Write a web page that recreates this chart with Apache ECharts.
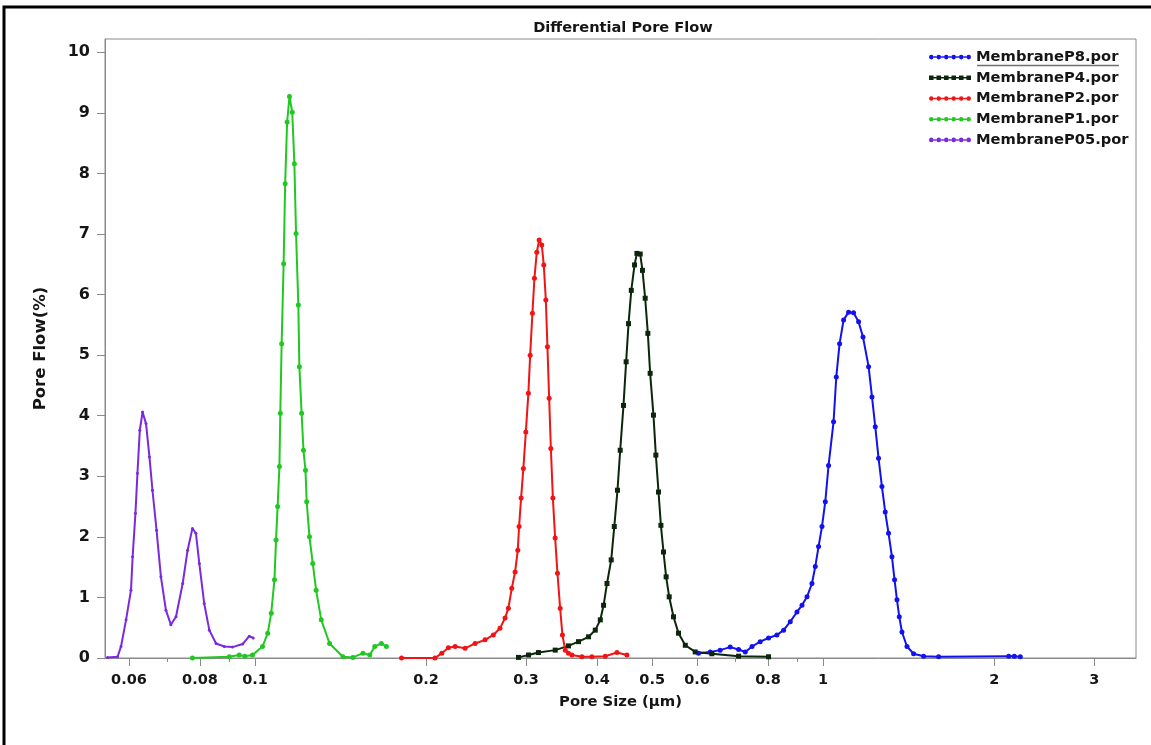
<!DOCTYPE html>
<html>
<head>
<meta charset="utf-8">
<title>Differential Pore Flow</title>
<script src="https://cdn.jsdelivr.net/npm/echarts@6/dist/echarts.min.js"></script>
<style>
  html, body { margin: 0; padding: 0; background: #fff; }
  #chart { width: 1151px; height: 745px; }
</style>
</head>
<body>
<div id="chart"></div>
<script>
// Pore size (µm) vs differential pore flow (%) for each membrane grade
const membraneP8 = [
  [0.6034,0.08],[0.6327,0.10],[0.6586,0.13],[0.6860,0.18],[0.7098,0.14],[0.7294,0.10],
  [0.7496,0.19],[0.7747,0.27],[0.8014,0.33],[0.8291,0.38],[0.8519,0.46],[0.8752,0.60],
  [0.8992,0.76],[0.9178,0.87],[0.9365,1.01],[0.9556,1.23],[0.9685,1.51],[0.9815,1.84],
  [0.9952,2.17],[1.0086,2.58],[1.0221,3.18],[1.0430,3.90],[1.0546,4.64],[1.0688,5.19],
  [1.0862,5.58],[1.1084,5.71],[1.1311,5.70],[1.1543,5.55],[1.1752,5.30],[1.2021,4.81],
  [1.2188,4.31],[1.2350,3.82],[1.2516,3.30],[1.2689,2.83],[1.2860,2.41],[1.3033,2.06],
  [1.3215,1.67],[1.3355,1.29],[1.3486,0.96],[1.3614,0.68],[1.3762,0.43],[1.4044,0.19],
  [1.4427,0.07],[1.5023,0.03],[1.5968,0.02],[2.1211,0.03],[2.1700,0.03],[2.2233,0.02]
];
const membraneP4 = [
  [0.2909,0.01],[0.3030,0.05],[0.3154,0.09],[0.3376,0.13],[0.3562,0.20],[0.3710,0.27],
  [0.3864,0.35],[0.3971,0.46],[0.4053,0.63],[0.4107,0.87],[0.4164,1.23],[0.4236,1.62],
  [0.4289,2.17],[0.4345,2.77],[0.4393,3.43],[0.4452,4.17],[0.4500,4.89],[0.4544,5.52],
  [0.4595,6.07],[0.4656,6.49],[0.4701,6.68],[0.4764,6.67],[0.4808,6.40],[0.4861,5.94],
  [0.4914,5.36],[0.4960,4.70],[0.5027,4.01],[0.5076,3.35],[0.5131,2.74],[0.5181,2.19],
  [0.5236,1.75],[0.5292,1.34],[0.5358,1.01],[0.5452,0.68],[0.5564,0.41],[0.5719,0.21],
  [0.5954,0.10],[0.6369,0.07],[0.7098,0.03],[0.8014,0.02]
];
const membraneP2 = [
  [0.1811,0.00],[0.2074,0.00],[0.2132,0.08],[0.2189,0.17],[0.2250,0.19],[0.2343,0.16],
  [0.2440,0.24],[0.2541,0.30],[0.2627,0.38],[0.2699,0.49],[0.2755,0.66],[0.2792,0.82],
  [0.2831,1.15],[0.2869,1.42],[0.2901,1.78],[0.2916,2.17],[0.2940,2.64],[0.2967,3.13],
  [0.2997,3.73],[0.3028,4.37],[0.3050,5.00],[0.3078,5.69],[0.3103,6.27],[0.3133,6.70],
  [0.3163,6.90],[0.3197,6.82],[0.3223,6.49],[0.3250,5.91],[0.3271,5.14],[0.3294,4.29],
  [0.3317,3.46],[0.3344,2.64],[0.3375,1.98],[0.3407,1.40],[0.3444,0.82],[0.3476,0.38],
  [0.3516,0.13],[0.3562,0.08],[0.3612,0.05],[0.3762,0.02],[0.3917,0.02],[0.4135,0.03],
  [0.4335,0.09],[0.4514,0.05]
];
const membraneP1 = [
  [0.0776,0.00],[0.0901,0.02],[0.0938,0.05],[0.0960,0.03],[0.0990,0.05],[0.1031,0.19],
  [0.1053,0.41],[0.1068,0.74],[0.1082,1.29],[0.1089,1.95],[0.1096,2.50],[0.1104,3.16],
  [0.1108,4.04],[0.1114,5.19],[0.1123,6.51],[0.1130,7.83],[0.1139,8.85],[0.1150,9.27],
  [0.1163,9.01],[0.1173,8.16],[0.1181,7.01],[0.1192,5.83],[0.1197,4.81],[0.1208,4.04],
  [0.1217,3.43],[0.1227,3.10],[0.1233,2.58],[0.1247,2.00],[0.1264,1.56],[0.1281,1.12],
  [0.1308,0.63],[0.1353,0.24],[0.1428,0.02],[0.1487,0.01],[0.1549,0.08],[0.1592,0.05],
  [0.1625,0.19],[0.1669,0.24],[0.1703,0.19]
];
const membraneP05 = [
  [0.0550,0.01],[0.0573,0.02],[0.0581,0.19],[0.0593,0.63],[0.0605,1.12],[0.0609,1.67],
  [0.0616,2.39],[0.0621,3.05],[0.0627,3.76],[0.0634,4.06],[0.0643,3.87],[0.0652,3.32],
  [0.0660,2.77],[0.0671,2.11],[0.0683,1.34],[0.0697,0.79],[0.0711,0.55],[0.0726,0.68],
  [0.0746,1.23],[0.0761,1.78],[0.0776,2.14],[0.0787,2.06],[0.0798,1.56],[0.0814,0.90],
  [0.0831,0.46],[0.0854,0.24],[0.0883,0.19],[0.0913,0.18],[0.0951,0.23],[0.0977,0.36],
  [0.0993,0.33]
];

const seriesNames = ['MembraneP8.por', 'MembraneP4.por', 'MembraneP2.por', 'MembraneP1.por', 'MembraneP05.por'];
const xMajorTicks = [0.06, 0.08, 0.1, 0.2, 0.3, 0.4, 0.5, 0.6, 0.8, 1, 2, 3];
const xMinorTicks = [0.07, 0.09, 0.7, 0.9];
const yTicks = [0, 1, 2, 3, 4, 5, 6, 7, 8, 9, 10];

const X_MIN = 0.05445, X_MAX = 3.553, Y_MAX = 10.22;
const FONT = 'DejaVu Sans';
const TEXT = '#151515';
const FRAME = '#8a8a8a';

// legend swatch: a short line with marker dots (circles or squares)
function swatchPath(square) {
  const xs = [3, 10.2, 17.4, 24.6, 31.8, 39];
  const r = 2.2;
  let p = '';
  xs.forEach((cx, i) => {
    if (square) {
      p += `M${cx - r},${3 - r}L${cx + r},${3 - r}L${cx + r},${3 + r}L${cx - r},${3 + r}Z`;
    } else {
      p += `M${cx - r},3a${r},${r} 0 1,0 ${2 * r},0a${r},${r} 0 1,0 ${-2 * r},0Z`;
    }
    if (i < xs.length - 1) {
      const a = cx + r, b = xs[i + 1] - r;
      p += `M${a},2.3L${b},2.3L${b},3.7L${a},3.7Z`;
    }
  });
  return 'path://' + p;
}

const styles = [
  { color: '#1212ee', symbol: 'circle', size: 5, icon: swatchPath(false) },
  { color: '#0c260c', symbol: 'rect',   size: 5, icon: swatchPath(true) },
  { color: '#f01414', symbol: 'circle', size: 5, icon: swatchPath(false) },
  { color: '#22c822', symbol: 'circle', size: 5, icon: swatchPath(false) },
  { color: '#7a2ade', symbol: 'circle', size: 3, icon: swatchPath(false) }
];
const datasets = [membraneP8, membraneP4, membraneP2, membraneP1, membraneP05];

const chart = echarts.init(document.getElementById('chart'), null, { renderer: 'canvas' });

chart.setOption({
  animation: false,
  backgroundColor: '#ffffff',
  title: {
    text: 'Differential Pore Flow',
    left: 618,
    top: 16,
    textAlign: 'center',
    textStyle: { fontFamily: FONT, fontWeight: 'bold', fontSize: 14.6, color: TEXT }
  },
  legend: {
    orient: 'vertical',
    left: 929,
    top: 49,
    padding: 0,
    itemGap: 4.5,
    itemWidth: 42,
    itemHeight: 5,
    selectedMode: false,
    textStyle: { fontFamily: FONT, fontWeight: 'bold', fontSize: 14.7, color: TEXT, lineHeight: 16.2 },
    data: seriesNames.map((n, i) => ({ name: n, icon: styles[i].icon, itemStyle: { color: styles[i].color } }))
  },
  grid: {
    left: 105, top: 39, right: 15, bottom: 87,
    show: true, borderColor: FRAME, borderWidth: 1, backgroundColor: '#ffffff'
  },
  xAxis: [
    {
      type: 'log',
      logBase: 10,
      min: X_MIN,
      max: X_MAX,
      name: 'Pore Size (µm)',
      nameLocation: 'middle',
      nameGap: 37,
      nameTextStyle: { fontFamily: FONT, fontWeight: 'bold', fontSize: 14.8, color: TEXT },
      axisLine: { show: true, lineStyle: { color: FRAME, width: 1 } },
      axisTick: { show: true, length: 8, inside: false, customValues: xMajorTicks, lineStyle: { color: FRAME } },
      axisLabel: {
        customValues: xMajorTicks,
        margin: 15,
        fontFamily: FONT, fontWeight: 'bold', fontSize: 14.5, color: TEXT,
        formatter: v => String(+Number(v).toPrecision(6))
      },
      splitLine: { show: false },
      minorTick: { show: false }
    },
    {
      type: 'log',
      logBase: 10,
      min: X_MIN,
      max: X_MAX,
      position: 'bottom',
      axisLine: { show: false },
      axisTick: { show: true, length: 4, inside: false, customValues: xMinorTicks, lineStyle: { color: FRAME } },
      axisLabel: { show: false },
      splitLine: { show: false }
    }
  ],
  yAxis: {
    type: 'value',
    min: 0,
    max: Y_MAX,
    name: 'Pore Flow(%)',
    nameLocation: 'middle',
    nameGap: 56,
    nameTextStyle: { fontFamily: FONT, fontWeight: 'bold', fontSize: 16.5, color: TEXT },
    axisLine: { show: true, lineStyle: { color: FRAME, width: 1 } },
    axisTick: { show: true, length: 8, inside: false, customValues: yTicks, lineStyle: { color: FRAME } },
    axisLabel: {
      customValues: yTicks,
      margin: 15,
      fontFamily: FONT, fontWeight: 'bold', fontSize: 16, color: TEXT
    },
    splitLine: { show: false }
  },
  graphic: [
    // black page frame along the top and left edges
    { type: 'polyline', z: 100, shape: { points: [[4, 760], [4, 7], [1170, 7]] },
      style: { stroke: '#000', lineWidth: 3, fill: null } },
    // underline beneath the first legend entry
    { type: 'line', z: 100, shape: { x1: 977, y1: 65.5, x2: 1119, y2: 65.5 },
      style: { stroke: '#707070', lineWidth: 1.5 } }
  ],
  series: datasets.map((d, i) => ({
    name: seriesNames[i],
    type: 'line',
    xAxisIndex: 0,
    data: d,
    showSymbol: true,
    symbol: styles[i].symbol,
    symbolSize: styles[i].size,
    smooth: false,
    clip: true,
    lineStyle: { color: styles[i].color, width: 2 },
    itemStyle: { color: styles[i].color }
  }))
});
</script>
</body>
</html>
